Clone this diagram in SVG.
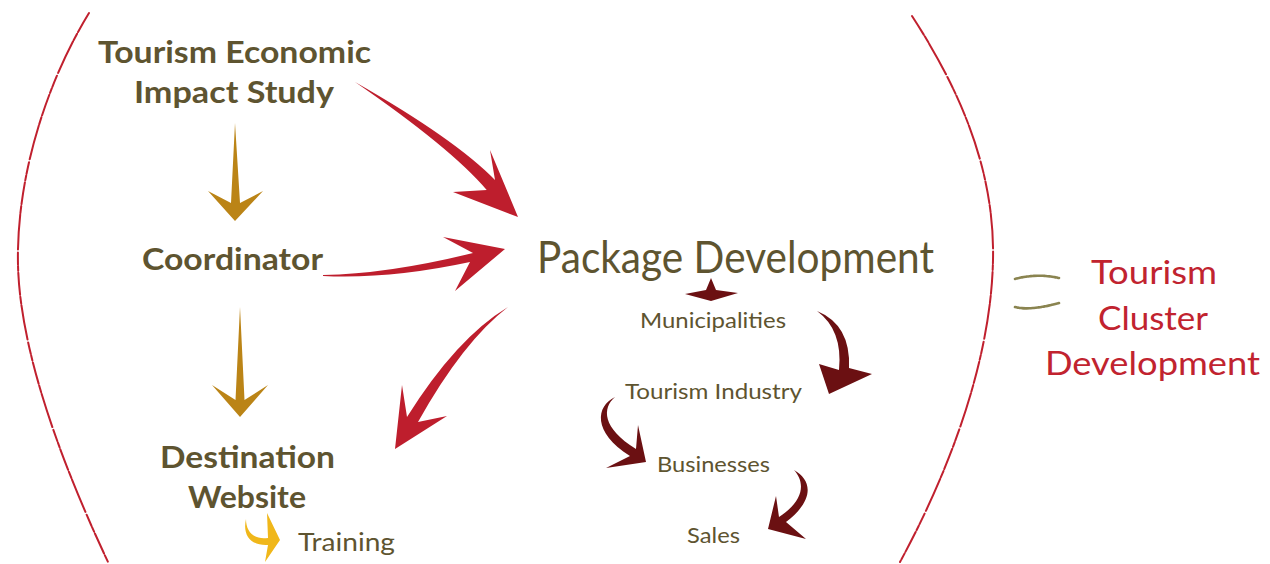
<svg xmlns="http://www.w3.org/2000/svg" width="1270" height="564" viewBox="0 0 1270 564">
<style>
.b{font-family:Lato,"Open Sans","Liberation Sans",sans-serif;font-weight:700;font-size:31px;fill:#5e5430;text-anchor:middle}
.r{font-family:Lato,"Open Sans","Liberation Sans",sans-serif;font-weight:400;fill:#5e5430}
.s{font-size:22px;text-anchor:middle}
.red{font-family:Lato,"Open Sans","Liberation Sans",sans-serif;font-size:33px;fill:#c1232f;text-anchor:middle}
.arc{fill:none;stroke:#c0202e;stroke-width:2;stroke-linecap:round;stroke-dasharray:22 2 7 1.5 35 3 12 1.5 5 2}
.red-arrow{fill:#be1e2d}
.gold{fill:#bb8416}
.maroon{fill:#6b1012}
.yellow{fill:#f0b71a}
.tilde{fill:none;stroke:#8a8450;stroke-width:2.6;stroke-linecap:round;stroke-dasharray:3 1 2 1 4 1}
</style>
<rect width="1270" height="564" fill="#ffffff"/>
<g id="brackets">
<path class="arc" d="M89,13 C45,85 16,180 18,265 C20,350 60,460 108,562"/>
<path class="arc" d="M912,16 C960,90 995,170 993,260 C991,360 950,470 900,562"/>
<path class="tilde" d="M1015,279 Q1037,273 1059,278"/>
<path class="tilde" d="M1015,307 Q1030,311 1059,303"/>
</g>
<g id="connectors">
<path class="red-arrow" d="M355,82 Q455,139 495,180 L490,150 L518,217 L453,192 L486.7,190 Q451,148 355,82 Z"/>
<path class="red-arrow" d="M323,275 Q388,274 473,253 L443,237 L505,249 L455,291 L470,262 Q389.5,279.3 323,276 Z"/>
<path class="red-arrow" d="M508,307 Q456.5,338 407,417 L402,385 L395,449 L447,416 L418,422 Q463,341.5 508,307 Z"/>
<path class="gold" d="M235,123 L231,203 L208,191 L235,221 L263,191 L240,203 Z"/>
<path class="gold" d="M240,307 L235.5,400 L212,385 L240,417 L268,385 L244.5,400 Z"/>
<path class="maroon" d="M711,278 L716,290 L738,293 L711,301 L685,294 L706,290 Z"/>
<path class="maroon" d="M817,311 Q851,325 849,368 L872,374 L829,394 L819,364 L839,370 Q843,330 817,311 Z"/>
<path class="maroon" d="M615,397 C596,406 592,432 630,456 L606,468 L646,462 L638,425 L636,449 C602,428 602,408 615,397 Z"/>
<path class="maroon" d="M794,470 C812,480 815,500 786,522 L806,539 L768,529 L776,496 L779,517 C805,500 805,482 794,470 Z"/>
<path class="yellow" d="M246,519 C246,532 254,540 268,538 L267,513 L280,540 L265,562 L268,545 C252,546 242,536 246,519 Z"/>
</g>
<g id="node-study">
<text class="b" x="234.5" y="63" textLength="273" lengthAdjust="spacingAndGlyphs">Tourism Economic</text>
<text class="b" x="234" y="103" textLength="200" lengthAdjust="spacingAndGlyphs">Impact Study</text>
</g>
<g id="node-coordinator">
<text class="b" x="232.5" y="270" textLength="181" lengthAdjust="spacingAndGlyphs">Coordinator</text>
</g>
<g id="node-website">
<text class="b" x="247.5" y="468" textLength="175" lengthAdjust="spacingAndGlyphs">Destination</text>
<text class="b" x="247" y="508" textLength="118" lengthAdjust="spacingAndGlyphs">Website</text>
</g>
<g id="node-training">
<text class="r" x="298" y="551" font-size="25" textLength="97" lengthAdjust="spacingAndGlyphs">Training</text>
</g>
<g id="node-package">
<text class="r" x="537" y="273" font-size="45" textLength="397" lengthAdjust="spacingAndGlyphs">Package Development</text>
</g>
<g id="node-municipalities">
<text class="r s" x="713" y="328" textLength="146" lengthAdjust="spacingAndGlyphs">Municipalities</text>
</g>
<g id="node-industry">
<text class="r s" x="713.5" y="399" textLength="177" lengthAdjust="spacingAndGlyphs">Tourism Industry</text>
</g>
<g id="node-businesses">
<text class="r s" x="713.5" y="472" textLength="113" lengthAdjust="spacingAndGlyphs">Businesses</text>
</g>
<g id="node-sales">
<text class="r s" x="713.5" y="543" textLength="53" lengthAdjust="spacingAndGlyphs">Sales</text>
</g>
<g id="node-cluster">
<text class="red" x="1154" y="284" textLength="126" lengthAdjust="spacingAndGlyphs">Tourism</text>
<text class="red" x="1153" y="330" textLength="110" lengthAdjust="spacingAndGlyphs">Cluster</text>
<text class="red" x="1152.5" y="375" textLength="215" lengthAdjust="spacingAndGlyphs">Development</text>
</g>
</svg>
